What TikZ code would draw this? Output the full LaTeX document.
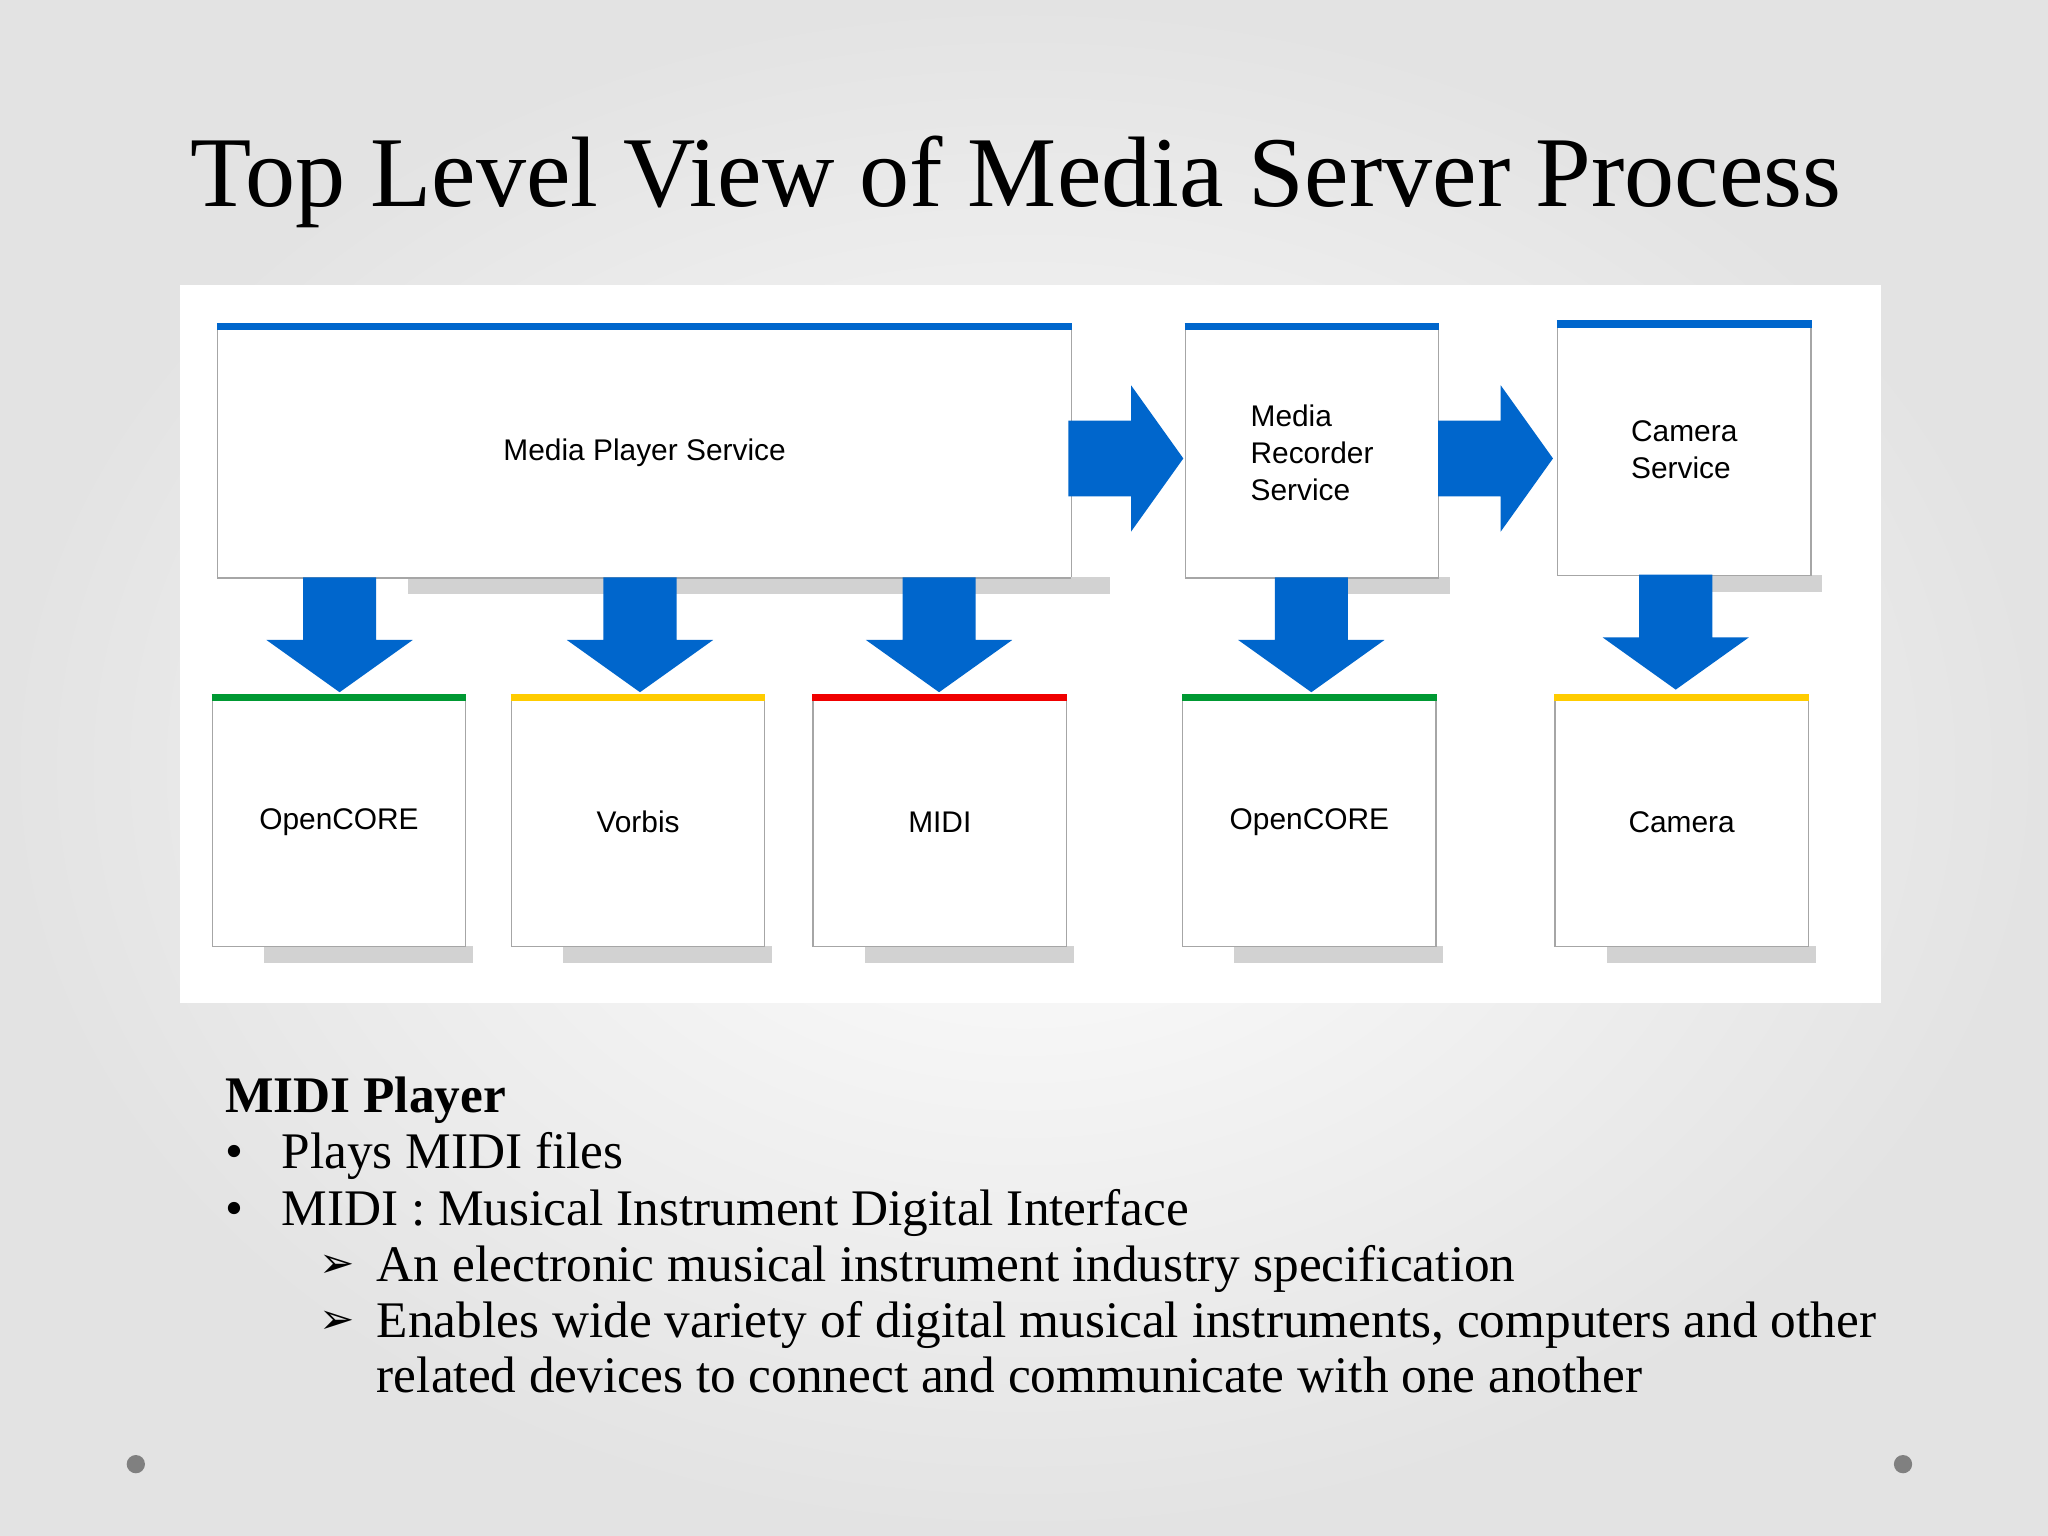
\documentclass[tikz,border=0pt]{standalone}
\usepackage{fontspec}
\setmainfont{Liberation Serif}
\newfontfamily\boxfont{Liberation Sans}
\newfontfamily\symfont{DejaVu Sans}
\usetikzlibrary{positioning}
\definecolor{mblue}{RGB}{0,102,204}
\definecolor{mgreen}{RGB}{0,153,51}
\definecolor{myellow}{RGB}{255,204,0}
\definecolor{mred}{RGB}{240,0,0}
\tikzset{
  box/.style={
    draw=gray!70,
    rectangle,
    fill=white,
    font=\boxfont\fontsize{8.5}{10.5}\selectfont,
    align=left
  },
  bar/.style={line width=2.2pt},
  shadow/.style={fill=gray!35},
  darrow/.pic={\fill[mblue] (-28,0) -- (28,0) -- (28,48) -- (56,48) -- (0,88) -- (-56,48) -- (-28,48) -- cycle;},
  rarrow/.pic={\fill[mblue] (0,-29) -- (48,-29) -- (48,-56) -- (88,0) -- (48,56) -- (48,29) -- (0,29) -- cycle;},
  bullet/.style={anchor=base west, inner sep=0pt, font=\fontsize{14.6}{17}\selectfont}
}
\begin{document}
\begin{tikzpicture}[x=0.013061cm, y=-0.013061cm]
\useasboundingbox (0,0) rectangle (1568,1176);
\shade[inner color=white, outer color=gray!22] (0,0) rectangle (1568,1176);

\node[anchor=base, font=\fontsize{28.5}{34}\selectfont] (title) at (778,158) {Top Level View of Media Server Process};

\fill[white] (138,218) rectangle (1440,768);

% service boxes
\foreach \xa/\ya/\xb/\yb/\sh/\nm/\txt in {166/250/820/442/312/mps/Media Player Service,
    907/250/1101/442/1010/mrs/Media\\Recorder\\Service,
    1192/248/1386/440/1300/cs/Camera\\Service}{
  \fill[shadow] (\sh,\yb) rectangle (\xb+9,\yb+13);
  \node[box, minimum width=(\xb-\xa)*0.013061cm, minimum height=(\yb-\ya)*0.013061cm, anchor=north west] (\nm) at (\xa,\ya) {\txt};
  \draw[bar, mblue] (\nm.north west) -- (\nm.north east);
}
\fill[shadow] (820,442) rectangle (850,455);

% codec boxes
\foreach \xa/\nm/\col/\txt in {162/oc/mgreen/OpenCORE, 391/vb/myellow/Vorbis, 622/midi/mred/MIDI,
    905/oc2/mgreen/OpenCORE, 1190/cam/myellow/Camera}{
  \fill[shadow] (\xa+40,724) rectangle (\xa+200,737);
  \node[box, minimum width=194*0.013061cm, minimum height=190*0.013061cm, anchor=north west] (\nm) at (\xa,534) {\txt};
  \draw[bar, \col] (\nm.north west) -- (\nm.north east);
}

% arrows
\pic at (260,442) {darrow};
\pic at (490,442) {darrow};
\pic at (719,442) {darrow};
\pic at (1004,442) {darrow};
\pic at (1283,440) {darrow};
\pic at (818,351) {rarrow};
\pic at (1101,351) {rarrow};

% text
\node[bullet, font=\bfseries\fontsize{14.6}{17}\selectfont] (head) at (172,852) {MIDI Player};
\node[bullet] (b1) at (172,895) {•};
\node[bullet] (t1) at (215,895) {Plays MIDI files};
\node[bullet] (b2) at (172,938) {•};
\node[bullet] (t2) at (215,938) {MIDI : Musical Instrument Digital Interface};
\node[bullet, font=\symfont\fontsize{12}{14}\selectfont] (s1) at (244,978) {➢};
\node[bullet] (u1) at (288,981) {An electronic musical instrument industry specification};
\node[bullet, font=\symfont\fontsize{12}{14}\selectfont] (s2) at (244,1021) {➢};
\node[bullet] (u2) at (288,1024) {Enables wide variety of digital musical instruments, computers and other};
\node[bullet] (u3) at (288,1066) {related devices to connect and communicate with one another};

\fill[gray] (104,1121) circle (7);
\fill[gray] (1457,1121) circle (7);
\end{tikzpicture}
\end{document}
